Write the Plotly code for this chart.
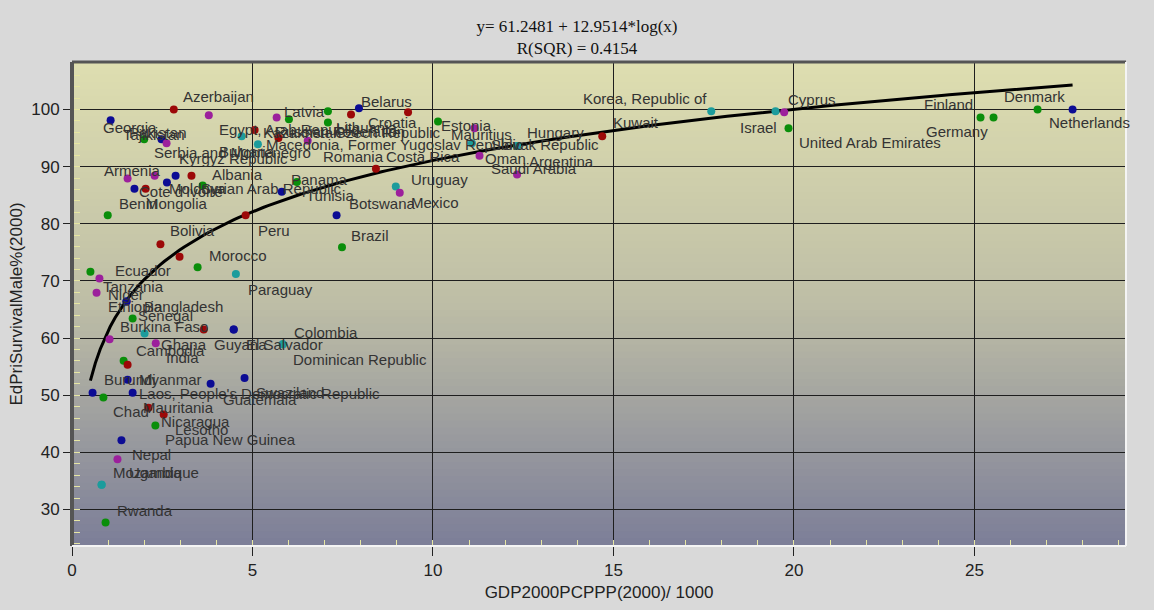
import numpy as np
import plotly.graph_objects as go

# fitted curve reported in the chart title
A, B, R2 = 61.2481, 12.9514, 0.4154

countries = [
    "Georgia", "Azerbaijan", "Tajikistan", "Pakistan", "Serbia and Montenegro", "Uzbekistan",
    "Egypt, Arab Republic", "Bulgaria", "Macedonia, Former Yugoslav Republic", "Russian Federation",
    "Kazakhstan", "Latvia", "Romania", "Lithuania", "Czech Republic", "Croatia", "Belarus", "Ukraine",
    "Estonia", "Mauritius", "Slovak Republic", "Hungary", "Argentina", "Oman", "Saudi Arabia", "Kuwait",
    "Korea, Republic of", "Cyprus", "Israel", "United Arab Emirates", "Finland", "Germany", "Denmark",
    "Netherlands", "Armenia", "Vietnam", "Kyrgyz Republic", "Albania", "Cote d'Ivoire", "Mongolia",
    "Moldova", "Syrian Arab Republic", "Benin", "Peru", "Tunisia", "Panama", "Botswana", "Costa Rica",
    "Uruguay", "Mexico", "Bolivia", "Honduras", "Brazil", "Morocco", "Paraguay", "Ecuador", "Tanzania",
    "Niger", "Ethiopia", "Bangladesh", "Senegal", "Burkina Faso", "Zimbabwe", "Guyana", "El Salvador",
    "Colombia", "Dominican Republic", "Cambodia", "India", "Ghana", "Togo", "Myanmar", "Burundi",
    "Guatemala", "Swaziland", "Chad", "Laos, People's Democratic Republic", "Mauritania", "Nicaragua",
    "Lesotho", "Papua New Guinea", "Nepal", "Mozambique", "Uganda", "Rwanda",
]
gdp = [
    1.07, 2.82, 2.00, 2.48, 2.62, 3.79,
    4.70, 5.06, 5.15, 5.72,
    5.67, 6.01, 6.53, 7.09, 7.09, 7.73, 7.95, 9.31,
    10.14, 11.15, 11.08, 12.33, 12.33, 11.29, 12.33, 14.69,
    17.71, 19.49, 19.73, 19.85, 25.17, 25.53, 26.75,
    27.72, 1.54, 2.29, 2.87, 3.31, 1.73, 2.04,
    2.63, 3.62, 0.99, 4.81, 5.81, 6.23, 7.33, 8.42,
    8.97, 9.08, 2.45, 2.98, 7.48, 3.48, 4.54, 0.51, 0.76,
    0.68, 1.51, 1.51, 1.68, 2.01, 3.65, 4.48, 4.48,
    5.84, 5.84, 1.04, 2.32, 1.43, 1.54, 1.54, 0.57,
    3.84, 4.78, 0.87, 1.68, 2.12, 2.54,
    2.31, 1.37, 1.26, 0.82, 0.82, 0.93,
]
survival = [
    98.1, 100.0, 94.8, 94.8, 94.1, 99.0,
    95.3, 96.4, 93.9, 95.0,
    98.6, 98.3, 94.5, 99.7, 97.7, 99.1, 100.2, 99.5,
    97.9, 96.7, 94.1, 93.6, 93.6, 91.9, 88.6, 95.3,
    99.7, 99.7, 99.5, 96.7, 98.6, 98.6, 100.0,
    100.0, 87.9, 88.4, 88.4, 88.4, 86.1, 86.1,
    87.2, 86.7, 81.5, 81.5, 85.6, 87.3, 81.5, 89.6,
    86.5, 85.4, 76.4, 74.2, 75.9, 72.4, 71.2, 71.6, 70.4,
    67.9, 66.4, 66.4, 63.4, 60.8, 61.5, 61.5, 61.5,
    58.9, 58.9, 59.8, 59.1, 56.0, 55.3, 52.7, 50.4,
    52.0, 53.0, 49.6, 50.4, 47.8, 46.6,
    44.7, 42.1, 38.8, 34.3, 34.3, 27.7,
]
groups = [
    "B", "R", "G", "B", "M", "M",
    "T", "R", "T", "R",
    "M", "G", "M", "G", "G", "R", "B", "R",
    "G", "M", "T", "T", "T", "M", "M", "R",
    "T", "T", "M", "G", "G", "G", "G",
    "B", "M", "M", "B", "R", "B", "R",
    "B", "G", "G", "R", "B", "G", "B", "R",
    "T", "M", "R", "R", "G", "G", "T", "G", "M",
    "M", "B", "B", "G", "T", "R", "B", "B",
    "T", "T", "M", "M", "G", "R", "B", "B",
    "B", "B", "G", "B", "R", "R",
    "G", "B", "M", "T", "T", "G",
]

colors = {"B": "#0c0c94", "R": "#9c0808", "G": "#0a8e0a", "M": "#9c209c", "T": "#1c9c9c"}

# label placement: anchor, pixel shift right, pixel shift down
label_pos = {
    "Georgia": ("left", -10, 7), "Azerbaijan": ("left", 7, -13), "Tajikistan": ("left", -23, -5),
    "Pakistan": ("left", -35, -7), "Serbia and Montenegro": ("left", -15, 9),
    "Egypt, Arab Republic": ("left", -25, -7), "Bulgaria": ("left", -38, 21),
    "Macedonia, Former Yugoslav Republic": ("left", 6, 0), "Russian Federation": ("left", -5, -7),
    "Kazakhstan": ("left", -16, 15), "Latvia": ("left", -7, -8), "Romania": ("left", 13, 16),
    "Lithuania": ("left", 6, 16), "Czech Republic": ("left", 5, 10), "Croatia": ("left", 15, 8),
    "Belarus": ("left", 0, -7), "Estonia": ("left", 1, 4), "Mauritius": ("left", -25, 6),
    "Slovak Republic": ("left", 17, 1), "Hungary": ("left", 8, -14), "Argentina": ("left", 10, 15),
    "Oman": ("left", 3, 3), "Saudi Arabia": ("left", -28, -6), "Kuwait": ("left", 9, -14),
    "Korea, Republic of": ("right", -2, -13), "Cyprus": ("left", 10, -12), "Israel": ("right", -5, 15),
    "United Arab Emirates": ("left", 8, 14), "Finland": ("right", -6, -13), "Germany": ("right", -4, 14),
    "Denmark": ("center", -3, -13), "Netherlands": ("left", -26, 13), "Armenia": ("left", -26, -8),
    "Kyrgyz Republic": ("left", 1, -17), "Albania": ("left", 19, -1), "Cote d'Ivoire": ("left", 3, 3),
    "Mongolia": ("left", -2, 15), "Moldova": ("left", 0, 6), "Syrian Arab Republic": ("left", -4, 3),
    "Benin": ("left", 9, -12), "Peru": ("left", 10, 15), "Tunisia": ("left", 22, 4),
    "Panama": ("left", -8, -3), "Botswana": ("left", 10, -12), "Costa Rica": ("left", 8, -12),
    "Uruguay": ("left", 13, -7), "Mexico": ("left", 9, 10), "Bolivia": ("left", 8, -14),
    "Brazil": ("left", 7, -12), "Morocco": ("left", 9, -12), "Paraguay": ("left", 10, 15),
    "Ecuador": ("left", 23, -1), "Tanzania": ("left", 2, 8), "Niger": ("left", 9, 2),
    "Ethiopia": ("left", -21, 5), "Bangladesh": ("left", 15, 5), "Senegal": ("left", 3, -3),
    "Burkina Faso": ("left", -27, -7), "Guyana": ("left", -22, 15), "El Salvador": ("left", 10, 15),
    "Colombia": ("left", 9, -12), "Dominican Republic": ("left", 8, 15), "Cambodia": ("left", 24, 11),
    "India": ("left", 8, 14), "Ghana": ("left", 35, -16), "Myanmar": ("left", 9, 0),
    "Burundi": ("left", 9, -13), "Guatemala": ("left", 10, 16), "Swaziland": ("left", 9, 14),
    "Chad": ("left", 8, 14), "Laos, People's Democratic Republic": ("left", 4, 1),
    "Mauritania": ("left", -8, 0), "Nicaragua": ("left", -5, 7), "Lesotho": ("left", 18, 4),
    "Papua New Guinea": ("left", 42, -1), "Nepal": ("left", 13, -5), "Mozambique": ("left", 9, -12),
    "Uganda": ("left", 25, -12), "Rwanda": ("left", 9, -12),
}

fig = go.Figure()

# fitted log curve
xs = np.linspace(min(gdp), max(gdp), 200)
fig.add_trace(go.Scatter(x=xs, y=A + B * np.log(xs), mode="lines",
                         line=dict(color="black", width=3), hoverinfo="skip"))

fig.add_trace(go.Scatter(x=gdp, y=survival, mode="markers", text=countries,
                         marker=dict(size=8, color=[colors[g] for g in groups]),
                         hovertemplate="%{text}<br>%{x}, %{y}<extra></extra>"))

annotations = []
for name, x, y in zip(countries, gdp, survival):
    if name not in label_pos:
        continue
    anchor, dx, dy = label_pos[name]
    annotations.append(dict(x=x, y=y, text=name, showarrow=False, xanchor=anchor, yanchor="middle",
                            xshift=dx, yshift=-dy,
                            font=dict(family="Liberation Sans, Arial", size=15, color="#333333")))

# background gradient of the plot area
shapes = []
stops = [(0.0, (222, 222, 176)), (0.5, (190, 190, 166)), (1.0, (124, 126, 152))]
n = 70
for i in range(n):
    t = (i + 0.5) / n
    for (t0, c0), (t1, c1) in zip(stops[:-1], stops[1:]):
        if t0 <= t <= t1:
            f = (t - t0) / (t1 - t0)
            c = [round(a + (b - a) * f) for a, b in zip(c0, c1)]
    shapes.append(dict(type="rect", xref="x domain", yref="y domain", x0=0, x1=1,
                       y0=1 - (i + 1) / n, y1=1 - i / n + 0.002, layer="below",
                       line=dict(width=0), fillcolor="rgb(%d,%d,%d)" % tuple(c)))
# bevelled frame
shapes += [
    dict(type="line", xref="x domain", yref="y domain", x0=0, x1=0, y0=0, y1=1,
         line=dict(color="#555555", width=4)),
    dict(type="line", xref="x domain", yref="y domain", x0=0, x1=1, y0=1, y1=1,
         line=dict(color="#555555", width=3)),
    dict(type="line", xref="x domain", yref="y domain", x0=0, x1=1, y0=0, y1=0,
         line=dict(color="#f4f4f4", width=2)),
    dict(type="line", xref="x domain", yref="y domain", x0=1, x1=1, y0=0, y1=1,
         line=dict(color="#f4f4f4", width=2)),
]

fig.update_layout(
    width=1154, height=610, autosize=False,
    margin=dict(l=72, r=28, t=62, b=59),
    paper_bgcolor="#d9d9d9", plot_bgcolor="#b8b8a8",
    showlegend=False,
    font=dict(family="Liberation Sans, Arial", size=17, color="#222222"),
    title=dict(text="y= %.4f + %.4f*log(x)<br>R(SQR) = %.4f" % (A, B, R2),
               x=0.5, xanchor="center", y=0.948, yanchor="middle",
               font=dict(family="Liberation Serif, Times New Roman", size=17, color="#111111")),
    xaxis=dict(range=[0, 29.2], tick0=0, dtick=5, showgrid=True, gridcolor="#1e1e1e", gridwidth=1,
               ticks="outside", ticklen=9, tickcolor="#222222", zeroline=False, showline=False,
               minor=dict(tick0=0, dtick=1, ticks="inside", ticklen=6, tickcolor="#e6e6a2", showgrid=False),
               title=dict(text="GDP2000PCPPP(2000)/ 1000", standoff=6, font=dict(size=17))),
    yaxis=dict(range=[23.6, 108.3], tick0=0, dtick=10, showgrid=True, gridcolor="#1e1e1e", gridwidth=1,
               ticks="outside", ticklen=8, tickcolor="#222222", zeroline=False, showline=False,
               minor=dict(tick0=0, dtick=2, ticks="inside", ticklen=8, tickcolor="#e6e6a2", showgrid=False),
               title=dict(text="EdPriSurvivalMale%(2000)", standoff=4, font=dict(size=17))),
    annotations=annotations,
    shapes=shapes,
)

# drop the default page margin so the figure fills the window like the original
fig.write_html("out.html", config={"displayModeBar": False},
               post_script="document.body.style.margin='0';document.body.style.background='#d9d9d9';")
